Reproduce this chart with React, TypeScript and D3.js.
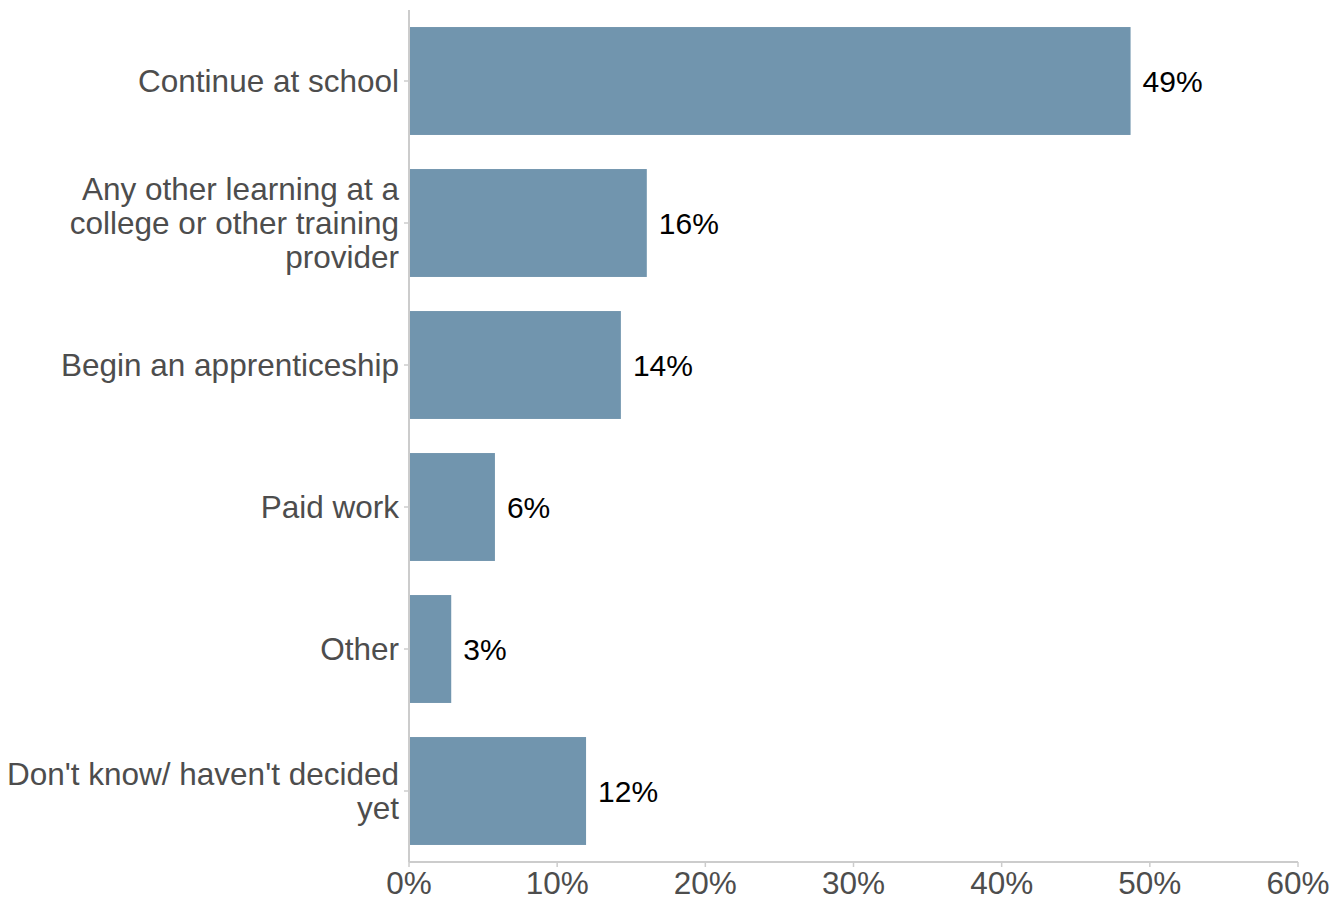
import React from "react";
import * as d3 from "d3";

const categories: string[][] = [
  ["Continue at school"],
  ["Any other learning at a", "college or other training", "provider"],
  ["Begin an apprenticeship"],
  ["Paid work"],
  ["Other"],
  ["Don't know/ haven't decided", "yet"],
];
const values: number[] = [48.7, 16.05, 14.3, 5.8, 2.85, 11.95];
const valueLabels: string[] = ["49%", "16%", "14%", "6%", "3%", "12%"];
const xTicks: number[] = [0, 10, 20, 30, 40, 50, 60];

const W = 1344;
const H = 898;
const left = 409;
const right = 1298;
const top = 10;
const bottom = 862;

export default function App() {
  const x = d3.scaleLinear().domain([0, 60]).range([left, right]);
  const keys = categories.map((_, i) => String(i));
  const y = d3
    .scaleBand<string>()
    .domain(keys)
    .range([top, bottom])
    .paddingInner(0.24)
    .paddingOuter(0.12);
  const font = "Liberation Sans, Arial, Helvetica, sans-serif";
  const grey = "#4d4d4d";
  const axisCol = "#cccccc";
  return (
    <svg
      width={W}
      height={H}
      style={{ position: "absolute", left: 0, top: 0, background: "#fff" }}
      fontFamily={font}
    >
      {categories.map((lines, i) => {
        const yb = y(String(i))!;
        const cy = yb + y.bandwidth() / 2;
        const lh = 34;
        const startY = cy - ((lines.length - 1) * lh) / 2;
        return (
          <g key={i}>
            <rect
              x={x(0)}
              y={yb}
              width={x(values[i]) - x(0)}
              height={y.bandwidth()}
              fill="#7195ae"
            />
            <text
              x={x(values[i]) + 12}
              y={cy}
              dy="0.36em"
              fontSize={30}
              fill="#000"
            >
              {valueLabels[i]}
            </text>
            <line x1={left - 5} x2={left} y1={cy} y2={cy} stroke={axisCol} strokeWidth={1.5} />
            <text textAnchor="end" fontSize={31.5} fill={grey}>
              {lines.map((l, j) => (
                <tspan key={j} x={399} y={startY + j * lh} dy="0.36em">
                  {l}
                </tspan>
              ))}
            </text>
          </g>
        );
      })}
      <line x1={left} x2={left} y1={top} y2={bottom} stroke={axisCol} strokeWidth={2} />
      <line x1={left} x2={right} y1={bottom} y2={bottom} stroke={axisCol} strokeWidth={2} />
      {xTicks.map((t) => (
        <g key={t}>
          <line x1={x(t)} x2={x(t)} y1={bottom} y2={bottom + 5} stroke={axisCol} strokeWidth={1.5} />
          <text
            x={x(t)}
            y={894}
            textAnchor="middle"
            fontSize={31.5}
            fill={grey}
          >
            {t}%
          </text>
        </g>
      ))}
    </svg>
  );
}
